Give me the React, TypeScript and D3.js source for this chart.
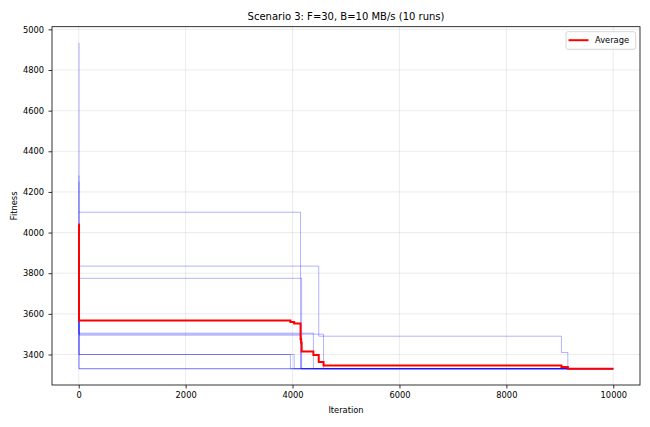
import { useEffect, useRef } from 'react';
import * as d3 from 'd3';

// Each run is a step function: [iteration where the value starts, fitness]
const run1: Array<[number, number]> = [[0, 4933], [5, 4100], [4150, 3330]];
const run2: Array<[number, number]> = [[0, 4280], [5, 3835], [4490, 3490], [9030, 3410], [9150, 3330]];
const run3: Array<[number, number]> = [[0, 4250], [5, 3775], [4170, 3330]];
const run4: Array<[number, number]> = [[0, 4100], [5, 3505], [4390, 3330]];
const run5: Array<[number, number]> = [[0, 3980], [5, 3495], [4160, 3330]];
const run6: Array<[number, number]> = [[0, 3900], [5, 3400], [3960, 3330]];
const run7: Array<[number, number]> = [[0, 3870], [5, 3500], [4580, 3330]];
const run8: Array<[number, number]> = [[0, 3780], [5, 3400], [4030, 3330]];
const run9: Array<[number, number]> = [[0, 3700], [5, 3330]];
const run10: Array<[number, number]> = [[0, 3607], [5, 3330]];

const runs = [run1, run2, run3, run4, run5, run6, run7, run8, run9, run10];
const lastIteration = 10000;

const xTicks = [0, 2000, 4000, 6000, 8000, 10000];
const yTicks = [3400, 3600, 3800, 4000, 4200, 4400, 4600, 4800, 5000];

const titleText = 'Scenario 3: F=30, B=10 MB/s (10 runs)';

function valueAt(run: Array<[number, number]>, it: number) {
    let v = run[0][1];
    for (const [x, y] of run) {
        if (x <= it) v = y;
    }
    return v;
}

export default function App() {
    const svgRef = useRef<SVGSVGElement>(null);

    useEffect(() => {
        if (!svgRef.current) return;
        const svg = d3.select(svgRef.current);
        svg.selectAll('*').remove();

        const width = 650;
        const height = 427;
        const margin = { top: 26.7, right: 10, bottom: 42, left: 52 };
        const innerWidth = width - margin.left - margin.right;
        const innerHeight = height - margin.top - margin.bottom;
        const font = 'DejaVu Sans, sans-serif';

        // Average over all runs at every change point
        const changePoints = Array.from(new Set(runs.flatMap(r => r.map(d => d[0])))).sort((a, b) => a - b);
        const average: Array<[number, number]> = changePoints.map(it => [it, d3.mean(runs, r => valueAt(r, it)) as number]);

        const allValues = runs.flatMap(r => r.map(d => d[1]));
        const [yMin, yMax] = d3.extent(allValues) as [number, number];
        const yPad = (yMax - yMin) * 0.05;
        const xPad = lastIteration * 0.05;

        const x = d3.scaleLinear().domain([-xPad, lastIteration + xPad]).range([0, innerWidth]);
        const y = d3.scaleLinear().domain([yMin - yPad, yMax + yPad]).range([innerHeight, 0]);

        const g = svg.append('g').attr('transform', `translate(${margin.left},${margin.top})`);

        // Grid
        g.append('g').selectAll('line').data(xTicks).enter().append('line')
            .attr('x1', d => x(d)).attr('x2', d => x(d))
            .attr('y1', 0).attr('y2', innerHeight)
            .attr('stroke', '#b0b0b0').attr('stroke-opacity', 0.3).attr('stroke-width', 0.8);
        g.append('g').selectAll('line').data(yTicks).enter().append('line')
            .attr('x1', 0).attr('x2', innerWidth)
            .attr('y1', d => y(d)).attr('y2', d => y(d))
            .attr('stroke', '#b0b0b0').attr('stroke-opacity', 0.3).attr('stroke-width', 0.8);

        const line = d3.line<[number, number]>()
            .x(d => x(d[0]))
            .y(d => y(d[1]))
            .curve(d3.curveStepAfter);

        const extend = (r: Array<[number, number]>): Array<[number, number]> =>
            [...r, [lastIteration, r[r.length - 1][1]]];

        // Individual runs
        g.append('g').selectAll('path').data(runs).enter().append('path')
            .attr('d', d => line(extend(d)))
            .attr('fill', 'none')
            .attr('stroke', 'blue')
            .attr('stroke-opacity', 0.3)
            .attr('stroke-width', 1);

        // Average
        g.append('path')
            .attr('d', line(extend(average)))
            .attr('fill', 'none')
            .attr('stroke', 'red')
            .attr('stroke-width', 2);

        // Axes
        const xAxis = g.append('g')
            .attr('transform', `translate(0,${innerHeight})`)
            .call(d3.axisBottom(x).tickValues(xTicks).tickSize(3.5).tickPadding(3.5).tickFormat(d => `${d}`));
        const yAxis = g.append('g')
            .call(d3.axisLeft(y).tickValues(yTicks).tickSize(3.5).tickPadding(4.5).tickFormat(d => `${d}`));
        [xAxis, yAxis].forEach(a => {
            a.select('.domain').remove();
            a.selectAll('.tick line').attr('stroke', '#000').attr('stroke-width', 0.8);
            a.selectAll('.tick text').attr('fill', '#000').attr('font-size', 8.3).attr('font-family', font);
        });

        // Frame
        g.append('rect')
            .attr('width', innerWidth).attr('height', innerHeight)
            .attr('fill', 'none').attr('stroke', '#000').attr('stroke-width', 0.8);

        // Labels
        svg.append('text')
            .attr('x', margin.left + innerWidth / 2).attr('y', 20)
            .attr('text-anchor', 'middle').attr('font-size', 10).attr('font-family', font)
            .text(titleText);
        svg.append('text')
            .attr('x', margin.left + innerWidth / 2).attr('y', 413)
            .attr('text-anchor', 'middle').attr('font-size', 8.3).attr('font-family', font)
            .text('Iteration');
        svg.append('text')
            .attr('transform', `translate(17,${margin.top + innerHeight / 2}) rotate(-90)`)
            .attr('text-anchor', 'middle').attr('font-size', 8.3).attr('font-family', font)
            .text('Fitness');

        // Legend
        const legend = svg.append('g').attr('transform', 'translate(566,31.7)');
        legend.append('rect')
            .attr('width', 69.7).attr('height', 17.6).attr('rx', 2)
            .attr('fill', '#fff').attr('fill-opacity', 0.8)
            .attr('stroke', '#cccccc').attr('stroke-width', 0.8);
        legend.append('line')
            .attr('x1', 2.5).attr('x2', 22.5).attr('y1', 8.5).attr('y2', 8.5)
            .attr('stroke', 'red').attr('stroke-width', 2);
        legend.append('text')
            .attr('x', 29).attr('y', 11.5)
            .attr('font-size', 8.3).attr('font-family', font)
            .text('Average');
    }, []);

    return (
        <svg
            ref={svgRef}
            width={650}
            height={427}
            style={{ position: 'absolute', left: 0, top: 0, background: '#fff' }}
        />
    );
}
